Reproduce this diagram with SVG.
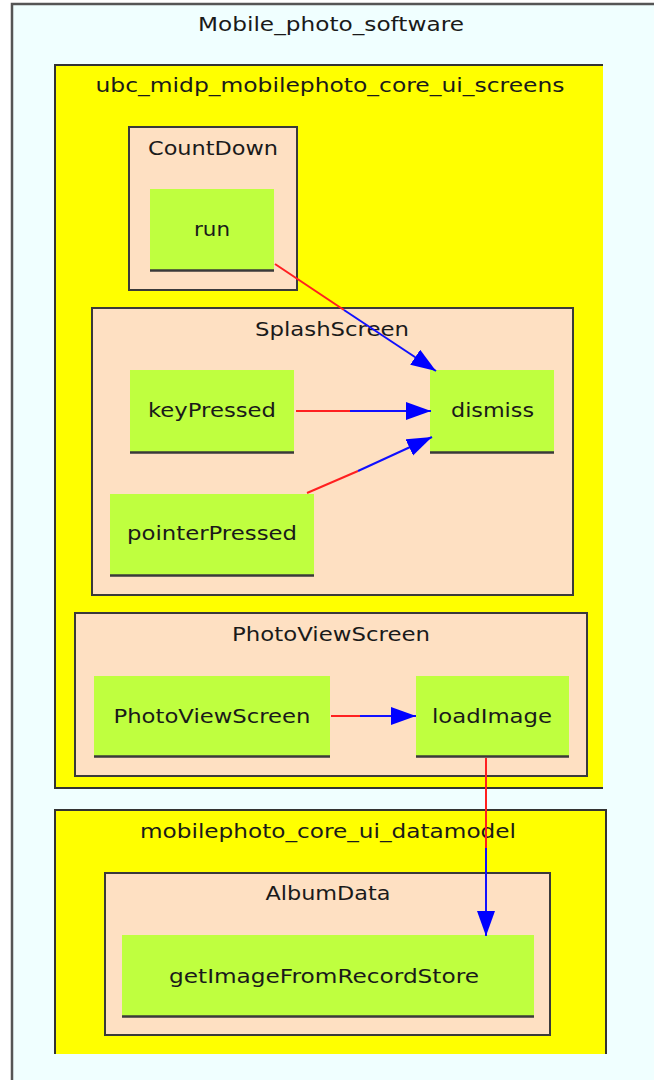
<svg xmlns="http://www.w3.org/2000/svg" width="654" height="1080" viewBox="0 0 654 1080">
<style>
text{font-family:"DejaVu Sans","Noto Sans",sans-serif;font-size:20px;fill:#1a1a1a;text-anchor:middle}
.pkg{fill:#ffff00}
.pkgb{fill:none;stroke:#333;stroke-width:2}
.cls{fill:#fee0c2;stroke:#3a3a3a;stroke-width:2}
.node{fill:#bfff3f}
.base{stroke:#3a3a3a;stroke-width:2.5}
.red{fill:none;stroke:#ff2020;stroke-width:2}
.blue{fill:none;stroke:#1010ff;stroke-width:2}
</style>
<defs>
<marker id="arr" markerUnits="userSpaceOnUse" markerWidth="26" markerHeight="20" refX="25" refY="9" orient="auto" viewBox="0 0 26 20">
<path d="M0,0 L25,9 L0,18 z" fill="#0000ff"/>
</marker>
</defs>
<rect x="0" y="0" width="654" height="1080" fill="#ffffff"/>
<g id="Mobile_photo_software">
<rect x="12" y="4" width="700" height="1100" fill="#f0ffff" stroke="#555" stroke-width="2.5"/>
<text x="331" y="31" textLength="266" lengthAdjust="spacingAndGlyphs">Mobile_photo_software</text>
</g>
<g id="pkg_screens">
<rect class="pkg" x="55" y="65" width="548" height="723"/>
<path class="pkgb" d="M603,65 H55 V788 H603"/>
<text x="330" y="92" textLength="469" lengthAdjust="spacingAndGlyphs">ubc_midp_mobilephoto_core_ui_screens</text>
</g>
<g id="CountDown">
<rect class="cls" x="129" y="127" width="168" height="163"/>
<text x="213" y="155" textLength="130" lengthAdjust="spacingAndGlyphs">CountDown</text>
</g>
<g id="run">
<rect class="node" x="150" y="189" width="124" height="82"/>
<line class="base" x1="150" y1="270.5" x2="274" y2="270.5"/>
<text x="212" y="236" textLength="36" lengthAdjust="spacingAndGlyphs">run</text>
</g>
<g id="SplashScreen">
<rect class="cls" x="92" y="308" width="481" height="287"/>
<text x="332" y="336" textLength="154" lengthAdjust="spacingAndGlyphs">SplashScreen</text>
</g>
<g id="keyPressed">
<rect class="node" x="130" y="370" width="164" height="83"/>
<line class="base" x1="130" y1="452.5" x2="294" y2="452.5"/>
<text x="212" y="417" textLength="128" lengthAdjust="spacingAndGlyphs">keyPressed</text>
</g>
<g id="dismiss">
<rect class="node" x="430" y="370" width="124" height="83"/>
<line class="base" x1="430" y1="452.5" x2="554" y2="452.5"/>
<text x="492.5" y="417" textLength="83" lengthAdjust="spacingAndGlyphs">dismiss</text>
</g>
<g id="pointerPressed">
<rect class="node" x="110" y="494" width="204" height="82"/>
<line class="base" x1="110" y1="575.5" x2="314" y2="575.5"/>
<text x="212" y="540" textLength="170" lengthAdjust="spacingAndGlyphs">pointerPressed</text>
</g>
<g id="PhotoViewScreen_cluster">
<rect class="cls" x="75" y="613" width="512" height="163"/>
<text x="331" y="641" textLength="198" lengthAdjust="spacingAndGlyphs">PhotoViewScreen</text>
</g>
<g id="PhotoViewScreen">
<rect class="node" x="94" y="676" width="236" height="81"/>
<line class="base" x1="94" y1="756.5" x2="330" y2="756.5"/>
<text x="212" y="723" textLength="197" lengthAdjust="spacingAndGlyphs">PhotoViewScreen</text>
</g>
<g id="loadImage">
<rect class="node" x="416" y="676" width="153" height="81"/>
<line class="base" x1="416" y1="756.5" x2="569" y2="756.5"/>
<text x="492" y="723" textLength="120" lengthAdjust="spacingAndGlyphs">loadImage</text>
</g>
<g id="pkg_datamodel">
<rect class="pkg" x="55" y="810" width="551" height="244"/>
<path class="pkgb" d="M55,1054 V810 H606 V1054"/>
<text x="328" y="838" textLength="376" lengthAdjust="spacingAndGlyphs">mobilephoto_core_ui_datamodel</text>
</g>
<g id="AlbumData">
<rect class="cls" x="105" y="873" width="445" height="162"/>
<text x="328" y="900" textLength="125" lengthAdjust="spacingAndGlyphs">AlbumData</text>
</g>
<g id="getImageFromRecordStore">
<rect class="node" x="122" y="935" width="412" height="82"/>
<line class="base" x1="122" y1="1016.5" x2="534" y2="1016.5"/>
<text x="324" y="983" textLength="310" lengthAdjust="spacingAndGlyphs">getImageFromRecordStore</text>
</g>
<g id="connectors">
<g id="run_dismiss">
<path class="red" d="M275,264 L344,310"/>
<path class="blue" d="M344,310 L436,371" marker-end="url(#arr)"/>
</g>
<g id="keyPressed_dismiss">
<path class="red" d="M296,411 L350,411"/>
<path class="blue" d="M350,411 L431,411" marker-end="url(#arr)"/>
</g>
<g id="pointerPressed_dismiss">
<path class="red" d="M307,493 L358,471"/>
<path class="blue" d="M358,471 L432,437" marker-end="url(#arr)"/>
</g>
<g id="PhotoViewScreen_loadImage">
<path class="red" d="M331,716 L360,716"/>
<path class="blue" d="M360,716 L416,716" marker-end="url(#arr)"/>
</g>
<g id="loadImage_getImageFromRecordStore">
<path class="red" d="M486,758 L486,848"/>
<path class="blue" d="M486,848 L486,936" marker-end="url(#arr)"/>
</g>
</g>
</svg>
